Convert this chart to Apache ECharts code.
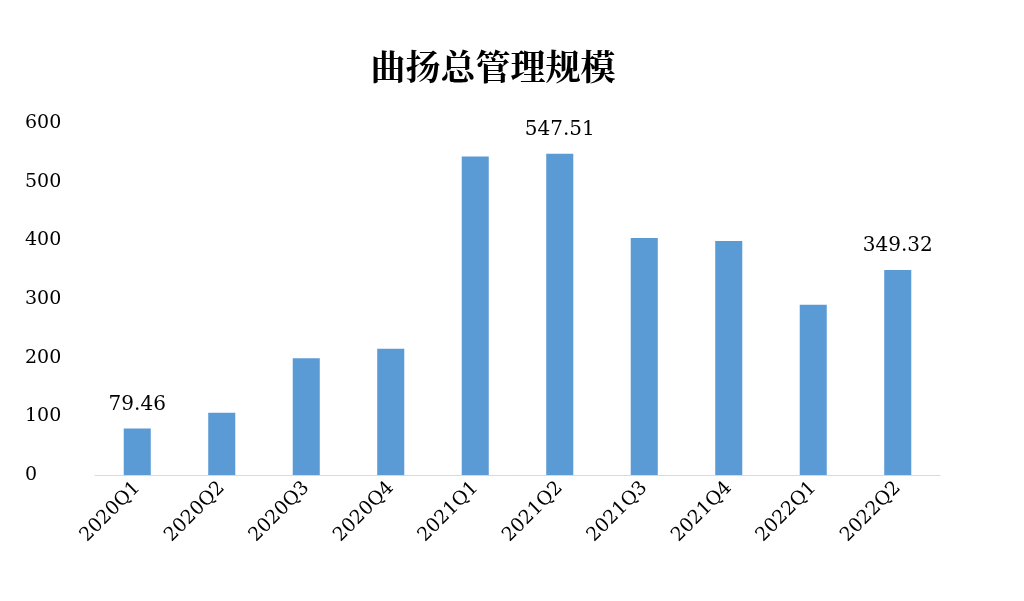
<!DOCTYPE html>
<html><head><meta charset="utf-8">
<script src="https://cdn.jsdelivr.net/npm/echarts@6/dist/echarts.min.js"></script>
<style>html,body{margin:0;background:#fff}#c{width:1024px;height:601px}</style>
</head><body><div id="c"></div>
<script>
const categories=['2020Q1','2020Q2','2020Q3','2020Q4','2021Q1','2021Q2','2021Q3','2021Q4','2022Q1','2022Q2'];
const values=[79.46,106,199,215,543,547.51,404,399,290,349.32];
const labeled=[0,5,9];
const yTicks=[0,100,200,300,400,500,600];
const chart=echarts.init(document.getElementById('c'));
chart.setOption({
 animation:false,
 title:{text:'曲扬总管理规模',left:488,top:44,textAlign:'center',textStyle:{fontSize:35,fontWeight:'bold',color:'#000',fontFamily:'Noto Serif CJK SC, Noto Sans CJK SC'}},
 grid:{left:95,right:84,top:123,bottom:126},
 xAxis:{type:'category',data:categories,axisTick:{show:false},axisLine:{lineStyle:{color:'#d9d9d9'}},
  axisLabel:{rotate:45,color:'#000',fontSize:19,fontFamily:'DejaVu Serif',margin:10}},
 yAxis:{type:'value',min:0,max:600,interval:100,splitLine:{show:false},axisLine:{show:false},axisTick:{show:false},
  axisLabel:{color:'#000',fontSize:19,fontFamily:'DejaVu Serif',align:'left',margin:70,formatter:v=>yTicks.includes(v)?String(v):''}},
 series:[{type:'bar',barWidth:'32%',itemStyle:{color:'#5b9bd5'},
  data:values.map((v,i)=>({value:v,label:{show:labeled.includes(i),position:'top',distance:14,formatter:String(v),color:'#000',fontSize:20,fontFamily:'DejaVu Serif'}}))}]
});
</script></body></html>
